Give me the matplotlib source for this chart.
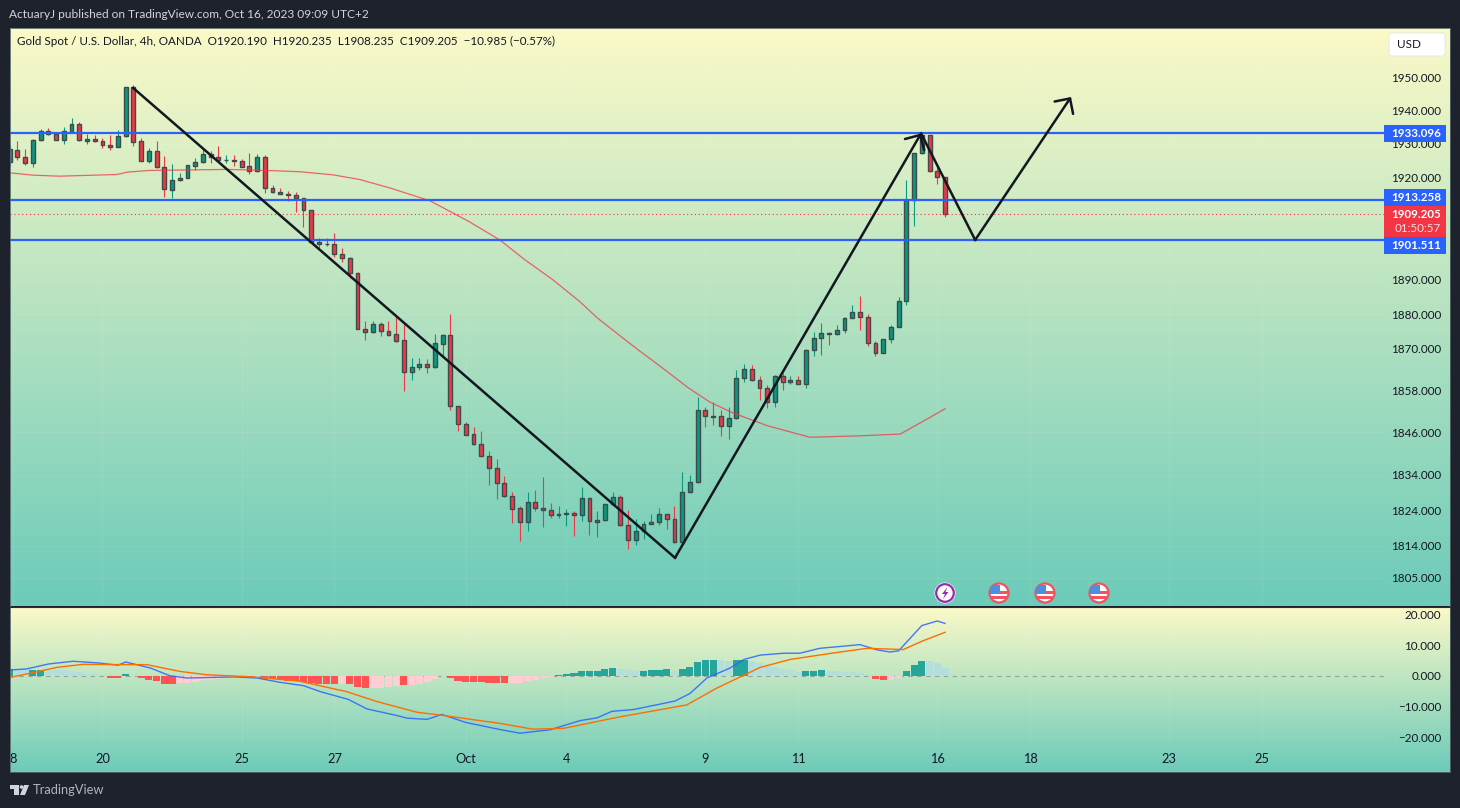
import numpy as np
import matplotlib
matplotlib.use('Agg')
import matplotlib.pyplot as plt
from matplotlib.patches import Circle, Polygon, Rectangle, FancyBboxPatch
from matplotlib.ticker import NullLocator

# OHLC of the 4h bars, bar 0 is the one cut by the left edge
opens = [1924.6,1928.3,1926.1,1924.2,1931.0,1933.7,1932.8,1931.2,1933.6,1935.8,1930.9,1931.3,1930.7,1929.8,1929.1,1932.2,1946.9,1930.7,1925.0,1928.0,
         1923.0,1916.4,1919.4,1920.0,1923.5,1924.5,1926.9,1926.2,1925.2,1925.3,1925.0,1923.3,1921.8,1926.0,1916.8,1915.8,1915.2,1914.8,1913.9,1910.3,
         1901.0,1900.3,1900.4,1897.6,1896.4,1891.8,1875.8,1874.7,1877.0,1875.0,1874.1,1872.4,1863.3,1864.6,1865.5,1864.8,1871.4,1873.8,1853.6,1848.5,
         1845.4,1842.6,1839.4,1836.0,1831.5,1827.9,1824.5,1820.5,1826.2,1824.7,1823.9,1822.7,1823.0,1823.3,1822.7,1827.3,1820.7,1821.1,1825.6,1827.6,
         1819.7,1815.5,1818.0,1820.2,1820.5,1822.8,1821.6,1814.9,1829.0,1831.8,1852.3,1850.7,1850.6,1847.9,1850.0,1861.5,1864.1,1860.9,1858.6,1854.6,
         1862.1,1860.3,1860.9,1859.8,1869.6,1873.0,1874.4,1874.1,1875.3,1878.8,1880.5,1879.1,1871.6,1868.7,1872.7,1876.2,1883.7,1913.3,1927.2,1932.5,
         1921.9,1920.19]
highs = [1929.6,1930.8,1928.4,1931.3,1934.3,1934.7,1933.5,1935.0,1937.7,1936.4,1933.0,1932.6,1931.6,1932.5,1934.1,1946.9,1947.5,1931.7,1928.7,1930.8,
         1926.3,1924.0,1921.3,1923.7,1925.7,1928.6,1927.9,1929.3,1926.6,1926.6,1925.4,1927.2,1926.9,1926.6,1917.7,1916.8,1916.1,1915.7,1913.9,1910.3,
         1902.2,1902.2,1903.7,1899.1,1896.7,1892.1,1878.1,1878.0,1877.6,1878.1,1879.5,1877.0,1867.3,1867.3,1867.0,1874.2,1874.2,1880.0,1853.6,1848.9,
         1847.4,1846.3,1840.6,1838.3,1833.6,1829.0,1825.0,1829.0,1829.6,1833.3,1826.0,1825.0,1824.2,1823.6,1830.4,1827.3,1823.6,1825.7,1829.0,1828.1,
         1824.0,1821.6,1820.8,1823.0,1824.5,1822.8,1825.0,1834.6,1833.8,1856.0,1853.2,1854.7,1852.3,1853.2,1863.9,1865.5,1865.2,1862.1,1859.5,1862.4,
         1863.0,1862.1,1862.1,1869.9,1874.7,1877.3,1874.8,1876.8,1879.1,1882.6,1885.2,1880.0,1872.2,1872.7,1876.8,1884.9,1919.2,1927.4,1933.1,1932.5,
         1923.4,1920.235]
lows = [1923.3,1925.1,1923.7,1923.1,1930.8,1932.6,1931.1,1929.9,1933.5,1930.9,1929.9,1930.5,1928.7,1928.3,1929.0,1932.1,1929.4,1924.8,1924.3,1922.9,
        1914.2,1914.0,1919.0,1919.9,1922.2,1924.3,1924.4,1924.5,1924.4,1923.4,1923.0,1921.1,1921.7,1915.5,1915.4,1915.0,1913.2,1909.8,1905.3,1900.9,
        1899.1,1899.7,1896.5,1895.1,1890.4,1875.8,1872.4,1874.6,1873.7,1873.7,1872.0,1857.9,1860.9,1863.8,1862.9,1864.5,1867.5,1852.4,1846.4,1845.2,
        1842.5,1839.3,1831.0,1827.2,1827.8,1820.3,1815.3,1818.1,1823.8,1819.3,1821.9,1821.9,1819.5,1816.7,1820.9,1817.0,1816.4,1821.0,1825.2,1819.6,
        1813.0,1814.3,1816.0,1820.1,1819.9,1818.7,1814.8,1814.1,1828.9,1831.7,1847.6,1848.1,1845.0,1844.1,1849.9,1860.4,1860.8,1855.3,1852.9,1853.2,
        1858.1,1859.8,1859.7,1858.7,1867.9,1868.2,1871.0,1874.0,1874.5,1878.7,1875.4,1870.8,1867.9,1868.6,1871.5,1876.1,1882.6,1905.7,1927.1,1921.5,
        1918.1,1908.235]
closes = [1928.4,1926.1,1924.2,1931.0,1933.7,1932.8,1931.2,1933.7,1935.8,1931.0,1931.3,1930.7,1929.8,1929.1,1932.2,1946.9,1930.6,1925.0,1928.0,1923.0,
          1916.5,1919.4,1920.0,1923.6,1924.5,1926.9,1926.2,1925.3,1925.3,1925.0,1923.2,1921.8,1926.0,1916.8,1915.8,1915.2,1914.8,1913.8,1910.3,1901.0,
          1900.4,1900.4,1897.6,1896.4,1891.8,1875.8,1874.7,1877.0,1875.0,1874.0,1872.3,1863.3,1864.6,1865.5,1864.8,1871.5,1873.8,1853.6,1848.5,1845.3,
          1842.6,1839.4,1836.0,1831.5,1827.9,1824.4,1820.5,1826.2,1824.7,1823.9,1822.7,1823.0,1823.3,1822.7,1827.3,1820.8,1821.1,1825.6,1827.6,1819.7,
          1815.5,1818.0,1820.2,1820.5,1822.8,1821.6,1814.9,1829.0,1831.8,1852.3,1850.6,1850.5,1847.9,1850.0,1861.5,1864.1,1860.9,1858.6,1854.6,1862.1,
          1860.3,1860.9,1859.8,1869.6,1873.0,1874.4,1874.1,1875.3,1878.8,1880.5,1879.0,1871.6,1868.7,1872.7,1876.2,1883.7,1913.3,1927.2,1932.5,1921.9,
          1920.2,1909.205]

# moving average, read at a few bars only
ma_bars = [0,3,6.5,13.9,15.2,18.1,28.1,33.3,37.6,41.8,45.3,49.2,54.4,59.5,63.4,66.7,70.3,73.8,76,79.3,81.5,84.1,87.8,90.6,93.6,98,103.5,110,115.2,117.8,121]
ma_vals = [1921.4,1920.7,1920.4,1920.9,1921.6,1922.1,1922.4,1922.1,1921.7,1920.8,1919.4,1916.9,1913.1,1906.9,1901.6,1895.7,1889.9,1883.5,1878.9,1873.1,
           1869.3,1865.0,1858.7,1854.6,1851.5,1847.9,1844.6,1845.0,1845.5,1848.7,1852.7]

# horizontal levels and the hand drawn path
levels = [1933.096, 1913.258, 1901.511]
last_price = 1909.205
down_bars = [15.98, 86.07]
down_prices = [1946.7, 1810.6]
up_bars = [86.07, 117.9]
up_prices = [1810.6, 1933.1]
zig_bars = [117.9, 124.9]
zig_prices = [1933.1, 1901.6]
last_leg_bars = [124.9, 137.3]
last_leg_prices = [1901.6, 1944.0]

# MACD pane
hist = [2.4,2.0,1.8,2.1,2.1,1.8,2.0,2.0,1.5,1.2,0.7,0.6,0.4,-0.5,-0.5,0.8,0.1,-0.8,-1.2,-1.5,-2.5,-2.5,-2.4,-2.2,-1.8,-1.3,-1.2,-0.9,-0.6,-0.5,
        -0.4,-0.3,0.1,-0.9,-1.1,-1.3,-1.5,-1.6,-1.8,-2.2,-2.5,-2.5,-2.7,-2.5,-2.7,-3.7,-4.0,-3.8,-3.8,-3.6,-3.3,-3.0,-2.8,-2.5,-1.8,-1.1,0.1,-0.8,-1.5,-1.9,
        -2.1,-2.1,-2.2,-2.4,-2.4,-2.4,-2.4,-1.7,-1.2,-0.8,-0.2,0.4,0.8,1.1,1.7,1.7,1.7,2.4,2.7,2.4,2.1,1.7,1.7,2.1,2.1,2.4,1.7,2.4,3.0,4.7,
        5.3,5.3,5.3,5.0,5.3,5.3,5.0,4.3,3.4,3.0,2.4,2.1,1.4,1.7,1.7,2.1,1.7,1.7,1.4,1.4,1.1,0.4,-0.9,-1.2,-1.2,-0.5,1.7,3.7,5.0,5.0,
        4.3,2.7]
# T strong up, L weak up, R strong down, P weak down
hist_kind = list("T" "LL" "TT" "LLLLLLLL" "RR" "T" "L" "RRRRR" "PPPPPPPPP" "R" "L" "RRRRRRRRRR" "P" "RRR" "PPPP" "R" "PPPP" "T"
                 "RRRRRRRR" "PPPPPP" "TTTTTTTT" "LLL" "TTTT" "L" "TTTTT" "LL" "TT" "LLLLLLL" "TTT" "LLLLLL" "RR" "PP" "TTT" "LLL")
macd_bars = [0,2.2,5,8.2,11.7,14,15,18.2,20.7,22.9,29,32,35,38,40.2,43.8,46.2,50,51.4,54,55.9,59,63.2,66,69.9,73.8,76,77.9,80.7,85,86.1,88,90.2,93.2,95,97.1,100.1,102.2,104.8,110,112.2,113.9,115,118,120,121]
macd_vals = [1.95,2.3,3.9,4.8,4.2,3.5,4.55,2.6,0.1,-0.65,-0.3,-0.65,-2.06,-3.14,-5.1,-7.6,-10.7,-12.8,-13.7,-14.1,-12.5,-15.1,-17.3,-18.6,-17.5,-14.5,-13.6,-11.5,-10.9,-8.7,-8.1,-5.7,-0.65,2.6,5.4,6.8,7.4,7.4,9.0,10.2,8.5,7.8,8.2,16.4,17.9,17.1]
signal_bars = [0,3,6.1,9.5,14.3,17.7,22,25.5,31.5,37.5,43.6,47.5,52.7,55.7,63.4,67.7,71.7,78.9,87.6,91.5,95.3,97.1,101,106.6,110.9,115.6,118.2,121]
signal_vals = [-0.5,1.1,2.8,3.8,3.7,3.7,1.5,0.4,-0.3,-1.7,-5.1,-8.3,-11.8,-12.7,-15.4,-17.3,-17.0,-13.3,-9.4,-3.9,0.65,2.8,5.4,7.5,9.0,8.6,11.5,14.2]

# axis ticks
price_ticks = [1950,1940,1930,1920,1890,1880,1870,1858,1846,1834,1824,1814,1805]
macd_ticks = [20,10,0,-10,-20]
macd_tick_labels = ['20.000','10.000','0.000','\u221210.000','\u221220.000']
time_ticks = [0.4,12,30,42,59,72,90,102,120,132,150,162]
time_labels = ['8','20','25','27','Oct','4','9','11','16','18','23','25']

W, H = 1460, 808
GREEN, RED = '#089981', '#f23645'
BLUE = '#2962ff'
EDGE = '#3f4b4b'
FONT = ['Lato', 'DejaVu Sans']
plt.rcParams['font.family'] = FONT

def px_axes(fig, x0, y0, x1, y1, **kw):
    return fig.add_axes([x0/W, 1-y1/H, (x1-x0)/W, (y1-y0)/H], **kw)

def gradient(fig, x0, y0, x1, y1):
    g = px_axes(fig, x0, y0, x1, y1, zorder=0)
    top = np.array([251, 249, 200])/255
    bot = np.array([108, 203, 185])/255
    t = np.linspace(0, 1, 256)[:, None, None]
    g.imshow(top*(1-t) + bot*t, aspect='auto', interpolation='bilinear')
    g.axis('off')

fig = plt.figure(figsize=(W/100, H/100), dpi=100, facecolor='#1e222d')
gradient(fig, 10, 28, 1450, 606)
gradient(fig, 10, 607, 1450, 772)

# bar i sits at px 9.7 + 7.73*i
x_lim = ((10-9.7)/7.73, (1384-9.7)/7.73)

ax = px_axes(fig, 10, 28, 1384, 606, zorder=2)
ax.patch.set_visible(False)
ax.set_yscale('log')
idx = np.arange(len(closes))
o, h, l, c = map(np.array, (opens, highs, lows, closes))
cols = [GREEN if cc >= oo else RED for oo, cc in zip(o, c)]
ax.vlines(idx, l, h, colors=cols, lw=0.8, zorder=2)
ax.bar(idx, np.abs(c-o), bottom=np.minimum(o, c), width=0.5, color=cols, edgecolor=EDGE, lw=1.0, zorder=3)
ax.plot(ma_bars, ma_vals, color=RED, lw=0.9, alpha=0.75, zorder=4)
for lev in levels:
    ax.axhline(lev, color=BLUE, lw=1.6, zorder=5)
ax.axhline(last_price, color=RED, lw=0.8, ls=(0, (1, 2.5)), zorder=5)

ax.plot(down_bars, down_prices, color='#131722', lw=1.8, zorder=6)
ax.plot(zig_bars, zig_prices, color='#131722', lw=1.8, zorder=6)
for bx, py in ((up_bars, up_prices), (last_leg_bars, last_leg_prices)):
    ax.annotate('', xy=(bx[1], py[1]), xytext=(bx[0], py[0]), zorder=6,
                arrowprops=dict(arrowstyle='->,head_length=0.8,head_width=0.8', color='#131722', lw=1.8, shrinkA=0, shrinkB=0))

ax.set_xlim(*x_lim)
ax.set_ylim(1797.2, 1964.8)
ax.set_xticks(time_ticks)
ax.set_yticks(price_ticks)
ax.set_yticklabels(['%.3f' % p for p in price_ticks])
ax.yaxis.set_minor_locator(NullLocator())
ax.yaxis.tick_right()
ax.tick_params(axis='y', length=0, pad=41, labelsize=8.4, labelcolor='#131722')
ax.tick_params(axis='x', length=0, labelbottom=False)
for t in ax.get_yticklabels():
    t.set_ha('right')
    t.set_va('center_baseline')
ax.grid(True, color='white', alpha=0.07, lw=0.7)
ax.set_axisbelow(True)
for s in ax.spines.values():
    s.set_visible(False)

ax2 = px_axes(fig, 10, 607, 1384, 745, zorder=2)
ax2.patch.set_visible(False)
kinds = {'T': '#26a69a', 'L': '#b2dfdb', 'P': '#ffcdd2', 'R': '#ff5252'}
ax2.bar(idx, hist, width=0.92, color=[kinds[k] for k in hist_kind], lw=0, zorder=2)
ax2.axhline(0, color='#787b86', lw=0.8, ls=(0, (4, 4)), alpha=0.6, zorder=1)
ax2.plot(macd_bars, macd_vals, color=BLUE, lw=1, alpha=0.85, zorder=3)
ax2.plot(signal_bars, signal_vals, color='#ff6d00', lw=1, zorder=3)
ax2.set_xlim(*x_lim)
ax2.set_ylim(-22.44, 22.44)
ax2.set_yticks(macd_ticks)
ax2.set_yticklabels(macd_tick_labels)
ax2.yaxis.tick_right()
ax2.tick_params(axis='y', length=0, pad=41, labelsize=8.4, labelcolor='#131722')
for t in ax2.get_yticklabels():
    t.set_ha('right')
    t.set_va('center_baseline')
ax2.set_xticks(time_ticks)
ax2.set_xticklabels(time_labels)
ax2.tick_params(axis='x', length=0, pad=6, labelsize=9.2, labelcolor='#131722')
ax2.grid(True, color='white', alpha=0.07, lw=0.7)
ax2.set_axisbelow(True)
for s in ax2.spines.values():
    s.set_visible(False)

# overlay in pixels for the labels, header and icons
ov = fig.add_axes([0, 0, 1, 1], zorder=5)
ov.set_xlim(0, W)
ov.set_ylim(H, 0)
ov.axis('off')
ov.patch.set_visible(False)

ov.add_patch(Rectangle((10, 28), 1439.5, 744, fc='none', ec='#56696a', lw=0.6))
ov.plot([10, 1450], [606.5, 606.5], color='#2a2e39', lw=0.8)

ov.text(9, 15, 'ActuaryJ published on TradingView.com, Oct 16, 2023 09:09 UTC+2', color='#d1d4dc', fontsize=8.6, va='center')
ov.text(17, 41, 'Gold Spot / U.S. Dollar, 4h, OANDA  O1920.190  H1920.235  L1908.235  C1909.205  \u221210.985 (\u22120.57%)',
        color='#131722', fontsize=8.35, va='center')

ov.add_patch(FancyBboxPatch((1389, 33), 56, 23, boxstyle='round,pad=0,rounding_size=3', fc='white', ec='#e0e3eb', lw=0.6))
ov.text(1397, 44.5, 'USD', color='#131722', fontsize=8.4, va='center')

for y0, y1, txt in ((125, 142, '1933.096'), (189, 206, '1913.258'), (237, 254, '1901.511')):
    ov.add_patch(Rectangle((1384, y0), 61.5, y1-y0, fc=BLUE, ec='none'))
    ov.text(1441, (y0+y1)/2, txt, color='white', fontsize=8.4, fontweight='bold', ha='right', va='center')
ov.add_patch(Rectangle((1384, 206), 61.5, 31, fc=RED, ec='none'))
ov.text(1441, 214.5, '1909.205', color='white', fontsize=8.4, fontweight='bold', ha='right', va='center')
ov.text(1441, 228.5, '01:50:57', color='#fbdde0', fontsize=8.4, ha='right', va='center')

# event markers
ring = Circle((945, 593), 10.5, fc='white', ec='none')
ov.add_patch(ring)
ov.add_patch(Circle((945, 593), 8.8, fc='white', ec='#9c27b0', lw=1.6))
ov.add_patch(Polygon([(947.5, 587), (942, 594), (945, 594), (943, 599), (948.5, 592), (945.5, 592)], fc='#9c27b0', ec='none'))
for fx in (999, 1045, 1099):
    base = Circle((fx, 593), 9.5, fc='white', ec='#f0525f', lw=1.6)
    ov.add_patch(base)
    for sy in (591, 596):
        st = Rectangle((fx-9, sy), 18, 2.6, fc='#f7525f', ec='none')
        ov.add_patch(st)
        st.set_clip_path(base)
    ca = Rectangle((fx-9, 585), 9.5, 7.5, fc='#4a90e2', ec='none')
    ov.add_patch(ca)
    ca.set_clip_path(base)

# footer logo
ov.add_patch(Polygon([(10, 785), (18.5, 785), (18.5, 795), (14, 795), (14, 789), (10, 789)], fc='#d1d4dc', ec='none'))
ov.add_patch(Circle((21.5, 787), 1.8, fc='#d1d4dc', ec='none'))
ov.add_patch(Polygon([(29, 785), (25, 795), (20, 795), (24, 785)], fc='#d1d4dc', ec='none'))
ov.text(33, 790.5, 'TradingView', color='#b2b5be', fontsize=9.3, va='center')

fig.savefig('out.png', dpi=100, facecolor=fig.get_facecolor())
